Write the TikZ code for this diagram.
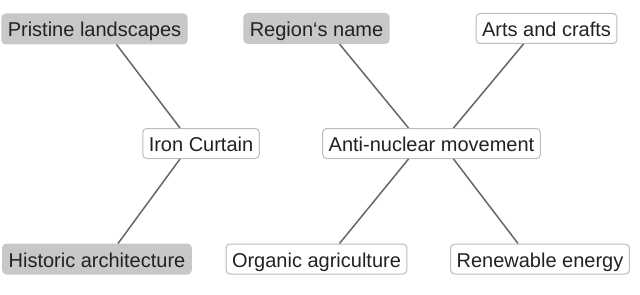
\documentclass[tikz,border=0pt]{standalone}
\usepackage{fontspec}
\setmainfont{Liberation Sans}
\definecolor{boxgray}{HTML}{C8C8C9}
\definecolor{rimgray}{HTML}{BDBDBD}
\definecolor{linkgray}{HTML}{666666}
\definecolor{textgray}{HTML}{222222}

\tikzset{
    topic/.style={rectangle, rounded corners=2pt, minimum height=15pt,
        inner xsep=3pt, inner ysep=0pt, text height=0.9em, text depth=0.1em,
        font=\fontsize{10}{12}\selectfont, text=textgray},
    known/.style={topic, fill=boxgray, draw=boxgray, line width=0.5pt},
    fresh/.style={topic, fill=white, draw=rimgray, line width=0.5pt},
    link/.style={draw=linkgray, line width=0.75pt}
}

\begin{document}
\begin{tikzpicture}[x=0.5pt, y=-0.5pt]
    \useasboundingbox (0,0) rectangle (640,294);

    % Draw nodes
    \node[known] (pristine) at (94.5,29) {Pristine landscapes};
    \node[known] (region) at (316.5,28.5) {Region‘s name};
    \node[fresh] (arts) at (546.5,28.5) {Arts and crafts};
    \node[fresh] (iron) at (201,143.5) {Iron Curtain};
    \node[fresh] (antinuc) at (431.5,143.5) {Anti-nuclear movement};
    \node[known] (historic) at (97,259) {Historic architecture};
    \node[fresh] (organic) at (316.5,259) {Organic agriculture};
    \node[fresh] (renew) at (540,259) {Renewable energy};

    % Draw connections
    \draw[link] ([xshift=11pt]pristine.south) -- ([xshift=-10.5pt]iron.north);
    \draw[link] ([xshift=-10.5pt]iron.south) -- ([xshift=10.5pt]historic.north);
    \draw[link] ([xshift=11.5pt]region.south) -- ([xshift=-11.5pt]antinuc.north);
    \draw[link] ([xshift=-11.5pt]arts.south) -- ([xshift=11pt]antinuc.north);
    \draw[link] ([xshift=-11.5pt]antinuc.south) -- ([xshift=11.5pt]organic.north);
    \draw[link] ([xshift=11pt]antinuc.south) -- ([xshift=-11pt]renew.north);
\end{tikzpicture}
\end{document}
